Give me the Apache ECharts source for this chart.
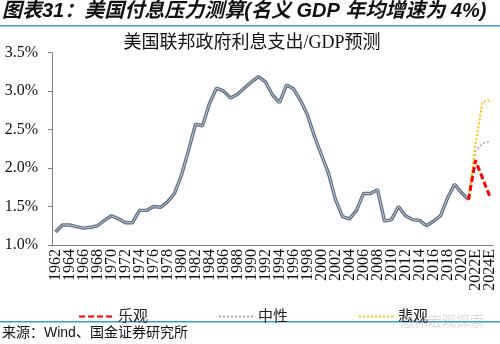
<!DOCTYPE html>
<html>
<head>
<meta charset="utf-8">
<script src="https://cdn.jsdelivr.net/npm/echarts@6/dist/echarts.min.js"></script>
<style>
  html, body { margin: 0; padding: 0; background: #fff; }
  #chart { width: 500px; height: 344px; }
</style>
</head>
<body>
<div id="chart"></div>
<script>
// Year categories (actuals through 2021, estimates after)
const years = [
  '1962','1963','1964','1965','1966','1967','1968','1969','1970','1971',
  '1972','1973','1974','1975','1976','1977','1978','1979','1980','1981',
  '1982','1983','1984','1985','1986','1987','1988','1989','1990','1991',
  '1992','1993','1994','1995','1996','1997','1998','1999','2000','2001',
  '2002','2003','2004','2005','2006','2007','2008','2009','2010','2011',
  '2012','2013','2014','2015','2016','2017','2018','2019','2020','2021',
  '2022E','2023E','2024E'
];

// Federal interest outlays as % of GDP, 1962-2021
const actual = [
  1.17, 1.26, 1.26, 1.24, 1.22, 1.23, 1.25, 1.32, 1.38, 1.34,
  1.29, 1.29, 1.45, 1.45, 1.50, 1.49, 1.56, 1.67, 1.91, 2.23,
  2.57, 2.55, 2.84, 3.04, 3.00, 2.91, 2.96, 3.04, 3.12, 3.19,
  3.12, 2.95, 2.85, 3.08, 3.03, 2.88, 2.69, 2.41, 2.17, 1.93,
  1.59, 1.37, 1.34, 1.45, 1.67, 1.67, 1.72, 1.31, 1.33, 1.50,
  1.38, 1.33, 1.32, 1.25, 1.31, 1.38, 1.61, 1.79, 1.68, 1.59
];

// Scenario paths, 2021 to 2024E
const optimistic  = [1.59, 2.10, 1.87, 1.64];
const neutral     = [1.59, 2.22, 2.32, 2.35];
const pessimistic = [1.59, 2.30, 2.86, 2.88];

const yTicks = [1.0, 1.5, 2.0, 2.5, 3.0, 3.5];

// Pad a scenario so it lines up with the year axis, starting at 2021
function alignScenario(path) {
  const out = new Array(years.length).fill(null);
  const start = years.indexOf('2021');
  path.forEach((v, i) => { out[start + i] = v; });
  return out;
}

const serif = "'Liberation Serif', 'Noto Sans CJK SC', serif";
const cjk = "'Liberation Sans', 'Noto Sans CJK SC', sans-serif";

const chart = echarts.init(document.getElementById('chart'), null, { renderer: 'canvas' });

chart.setOption({
  animation: false,
  backgroundColor: '#ffffff',
  grid: { left: 52, right: 7, top: 52.7, bottom: 99, containLabel: false },
  xAxis: {
    type: 'category',
    data: years,
    boundaryGap: true,
    axisLine: { lineStyle: { color: '#808080', width: 1 } },
    axisTick: { interval: 1, length: 4, lineStyle: { color: '#808080' } },
    axisLabel: {
      interval: 0,
      rotate: 90,
      margin: 4,
      showMinLabel: true,
      showMaxLabel: true,
      hideOverlap: false,
      // every other year is labelled
      formatter: (v, i) => (i % 2 === 0 ? v : ''),
      fontFamily: serif,
      fontSize: 16,
      color: '#111'
    }
  },
  yAxis: {
    type: 'value',
    min: yTicks[0],
    max: yTicks[yTicks.length - 1],
    interval: 0.5,
    splitLine: { show: false },
    axisLine: { show: true, lineStyle: { color: '#808080', width: 1 } },
    axisTick: { show: true, length: 4, lineStyle: { color: '#808080' } },
    axisLabel: {
      margin: 14,
      fontFamily: serif,
      fontSize: 16,
      color: '#111',
      formatter: v => v.toFixed(1) + '%'
    }
  },
  legend: {
    data: ['乐观', '中性', '悲观'],
    left: 73,
    top: 304,
    itemWidth: 34,
    itemHeight: 14,
    itemGap: 70,
    itemStyle: { opacity: 0 },
    textStyle: { fontFamily: cjk, fontSize: 15, color: '#222' }
  },
  series: [
    {
      name: 'actual-outline',
      type: 'line',
      data: actual.concat([null, null, null]),
      symbol: 'none',
      silent: true,
      z: 2,
      lineStyle: { color: '#5d6d85', width: 3.4 }
    },
    {
      name: 'actual-core',
      type: 'line',
      data: actual.concat([null, null, null]),
      symbol: 'none',
      silent: true,
      z: 3,
      lineStyle: { color: '#c5cdd9', width: 1 }
    },
    {
      name: '乐观',
      type: 'line',
      data: alignScenario(optimistic),
      symbol: 'none',
      z: 5,
      itemStyle: { color: '#ff0000' },
      lineStyle: { color: '#ff0000', width: 3, type: [6, 3] }
    },
    {
      name: '中性',
      type: 'line',
      data: alignScenario(neutral),
      symbol: 'none',
      z: 4,
      itemStyle: { color: '#a6a6a6' },
      lineStyle: { color: '#a6a6a6', width: 1.6, type: [2, 2] }
    },
    {
      name: '悲观',
      type: 'line',
      data: alignScenario(pessimistic),
      symbol: 'none',
      z: 4,
      itemStyle: { color: '#ffc000' },
      lineStyle: { color: '#ffc000', width: 2, type: [2, 2] }
    }
  ],
  graphic: [
    {
      type: 'text',
      left: 2,
      top: 1,
      style: {
        text: '图表31：美国付息压力测算(名义 GDP 年均增速为 4%)',
        font: "italic bold 20px 'Liberation Sans', 'Noto Sans CJK SC', sans-serif",
        fill: '#111'
      }
    },
    {
      type: 'rect',
      shape: { x: 0, y: 25, width: 500, height: 1.5 },
      style: { fill: '#3c9ad6' }
    },
    {
      type: 'text',
      x: 252,
      y: 43,
      style: {
        text: '美国联邦政府利息支出/GDP预测',
        font: "18px 'Liberation Serif', 'Noto Sans CJK SC', serif",
        fill: '#111',
        textAlign: 'center',
        textVerticalAlign: 'middle'
      }
    },
    {
      type: 'rect',
      shape: { x: 0, y: 321, width: 500, height: 1.5 },
      style: { fill: '#3c9ad6' }
    },
    {
      type: 'text',
      x: 400,
      y: 321,
      style: {
        text: '懋伟宏观探索',
        font: "14px 'Noto Sans CJK SC', sans-serif",
        fill: 'rgba(150,150,150,0.35)',
        textVerticalAlign: 'middle'
      }
    },
    {
      type: 'text',
      left: 2,
      top: 326,
      style: {
        text: '来源：Wind、国金证券研究所',
        font: "14px 'Liberation Sans', 'Noto Sans CJK SC', sans-serif",
        fill: '#111'
      }
    }
  ]
});
</script>
</body>
</html>
